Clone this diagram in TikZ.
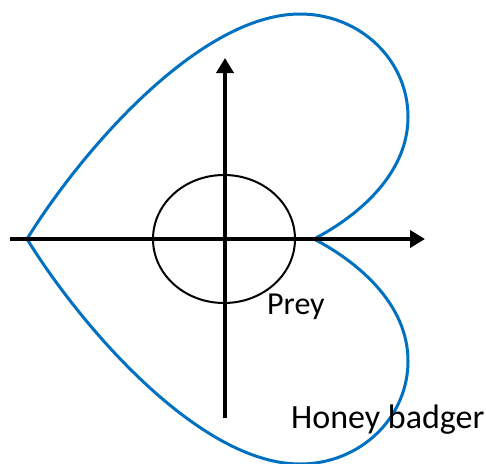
\documentclass[tikz,border=0pt]{standalone}
\usepackage{fontspec}
\setmainfont{Carlito}
\usetikzlibrary{arrows.meta,shapes.geometric}
\definecolor{heartblue}{RGB}{0,112,192}
\tikzset{
  heartline/.style={draw=heartblue, line width=3pt, line join=round},
  axisline/.style={draw=black, line width=4pt, -{Triangle[length=15pt,width=17pt]}},
  preyring/.style={draw=black, line width=2pt},
  lbl/.style={inner sep=0pt, anchor=base west, font=\fontsize{32}{38}\selectfont}
}
\begin{document}
\begin{tikzpicture}[x=1pt,y=-1pt]
\useasboundingbox (0,0) rectangle (486,463);
% heart
\coordinate (tip) at (27,239);
\coordinate (top) at (300,14);
\coordinate (rtop) at (408,117);
\coordinate (cusp) at (314,239);
\coordinate (rbot) at (408,361);
\coordinate (bot) at (300,464);
\draw[heartline] (tip) .. controls (82,150) and (200,14) .. (top)
  .. controls (360,14) and (408,60) .. (rtop)
  .. controls (408,174) and (358,216) .. (cusp)
  .. controls (358,262) and (408,304) .. (rbot)
  .. controls (408,418) and (360,464) .. (bot)
  .. controls (200,464) and (82,328) .. (tip);
% prey circle
\node[preyring, ellipse, minimum width=142pt, minimum height=128pt, inner sep=0pt] (prey) at (224,239) {};
% axes
\coordinate (xstart) at (10,239);
\coordinate (xend) at (425,239);
\coordinate (ystart) at (225,418);
\coordinate (yend) at (225,58);
\draw[axisline] (xstart) -- (xend);
\draw[axisline] (ystart) -- (yend);
% labels
\node[lbl] (preylabel) at (267,314) {Prey};
\node[lbl, font=\fontsize{34}{40}\selectfont] (badgerlabel) at (291,428) {Honey badger};
\end{tikzpicture}
\end{document}
